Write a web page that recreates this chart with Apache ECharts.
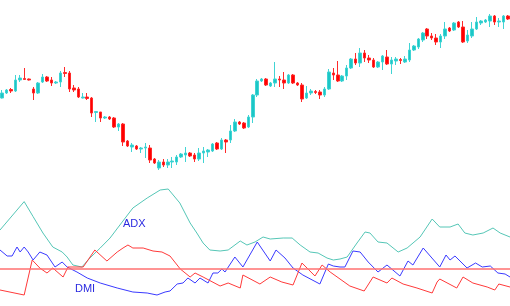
<!DOCTYPE html>
<html>
<head>
<meta charset="utf-8">
<script src="https://cdn.jsdelivr.net/npm/echarts@6/dist/echarts.min.js"></script>
<style>
  html, body { margin: 0; padding: 0; background: #fff; }
  #chart { width: 510px; height: 306px; }
</style>
</head>
<body>
<div id="chart"></div>
<script>
// price bars, one entry per candle
const opens = [102, 107, 110.5, 109, 120, 121.5, 121, 111, 107, 118, 123, 120, 117, 118, 127.5, 127, 112, 111, 102, 103,
  102, 87.5, 88, 82, 83, 82, 73, 76, 59, 53, 54, 51, 52, 52, 41, 32, 38, 35, 38, 38,
  43, 45, 47, 45, 41, 47, 48, 49, 57, 51, 60, 60, 69, 78, 77, 73, 83, 105, 119, 121,
  114, 117, 121, 120, 117, 125, 117, 115, 102, 107, 108.5, 108, 105, 111, 127, 125, 119, 124, 132, 141,
  137, 147, 142, 140, 133, 138, 143, 136, 139, 140.5, 138, 140, 150, 153, 160, 171, 164, 162, 158, 164,
  172, 170, 178, 173, 159, 164, 171, 177, 178, 179, 184, 178, 178, 184]
const closes = [107, 110, 109, 120, 122, 120.5, 120, 107, 117, 123, 119, 117, 118, 127, 126.5, 111, 110, 103, 103, 101.5,
  87, 88.5, 82, 83, 81, 73, 76, 58, 54, 55, 51, 52, 53, 40, 37, 38, 35, 38, 39, 43,
  46, 47, 44, 41, 47, 49, 50, 56, 51, 60, 58, 69, 78, 76, 72, 83, 105, 119, 121, 115,
  117, 121, 120, 117, 125, 117, 115, 101, 107, 109, 107.5, 105, 111, 128, 125, 119, 124, 132, 141, 137,
  147, 142, 140, 133, 138, 144, 136, 140, 141, 139.5, 141, 150, 154, 161, 167, 164, 162, 158, 164, 171,
  169, 177, 173, 158, 165, 171, 178, 179, 180, 184, 178, 179, 184, 181]
const lows = [101.5, 106, 107, 108, 118, 120, 119.5, 100, 106, 117, 118, 114, 116, 113, 123, 108, 108, 102, 101.5, 100,
  83, 78, 78, 81, 80, 72, 69, 54, 53, 48, 50, 47, 42, 37, 36, 30, 33, 32, 32, 35,
  42, 38, 43, 38, 39, 37, 43, 48, 50, 50, 47, 57, 68, 75, 71, 72, 77, 103, 118, 114,
  113, 113, 113, 111, 116, 116, 114, 98, 101, 105, 106, 101, 103, 110, 120, 118, 118, 120, 131, 135,
  133, 138, 137, 132, 132, 130, 135, 126, 135, 136, 137, 138, 149, 151, 158, 161, 160, 155, 152, 161,
  168, 169, 172, 157, 157, 162, 170, 175, 177, 173, 175, 173, 171, 180]
const highs = [110, 111, 112, 125, 125, 132, 121.5, 113, 118, 126, 124, 123, 119, 129, 133, 129, 115, 113, 107, 107,
  103, 89, 88, 84, 84, 83, 77, 77, 60, 57, 55, 53, 57, 55, 42, 40, 41, 41, 43, 45,
  47, 53, 48, 47, 52, 53, 51, 57, 58, 62, 61, 75, 81, 79, 78, 85, 106, 121, 122, 122,
  118, 138, 124, 128, 126, 126, 118, 117, 114, 111, 110, 110, 113, 131, 132, 139, 125, 135, 142, 147,
  152, 150, 145, 142, 139, 145, 150, 143, 143, 142, 144, 157, 155, 162, 168, 172, 167, 166, 166, 178,
  173, 178, 179, 179, 170, 178, 183, 180, 181, 186, 185, 182, 185, 185]

// indicator lines: [bar index, value]
const adx = [[-0.5, 38], [4.9, 52.2], [6.9, 44.7], [9.1, 36.5], [11.3, 29.5], [13.4, 27], [14.5, 24.5], [15.8, 20.5],
  [17.8, 19.5], [19.6, 24], [21.9, 29], [24.1, 34], [26.3, 40.5], [29.2, 49], [32.4, 54], [35.3, 58], [37.1, 58.5],
  [39.7, 51.5], [42, 41.5], [43.5, 36.5], [44.9, 31.5], [46.4, 28], [48.7, 27.5], [50.5, 28], [53.2, 32.5],
  [54.7, 30.5], [56.5, 32], [58.3, 34.5], [59.9, 33.5], [62.8, 34], [64.8, 34], [66.6, 30.5], [68.8, 27],
  [70.6, 26.5], [72.6, 24], [74, 23], [75.5, 23.5], [77.1, 24.5], [79.3, 31.5], [81.1, 37], [82.2, 36.5],
  [84, 32], [86, 31.5], [88.5, 27], [90.5, 29], [93.4, 34.5], [96.1, 43.5], [97.8, 39.5], [100.1, 39.5],
  [101.9, 41], [103.4, 36.5], [105.2, 35.5], [107.5, 36.5], [109.7, 39], [111.3, 36.5], [113.5, 34.5]]
const diPlus = [[-0.5, 28], [1.1, 25], [2.2, 25], [3.3, 29.5], [4, 27], [4.9, 29.5], [5.8, 27], [6.9, 23], [8.4, 27],
  [10, 25.5], [11.8, 19.5], [13.4, 22], [14.5, 19.5], [16.7, 17], [19, 14], [21.9, 11.5], [25.7, 9], [29.2, 7],
  [32.4, 6.5], [34.6, 5.5], [36.4, 7], [37.5, 7.5], [39.1, 11], [40.4, 11.5], [41.5, 14], [43.1, 11.5], [44.2, 14],
  [46, 11.5], [47.1, 16.5], [48.2, 16.5], [49.1, 18.5], [49.8, 17], [52, 24.5], [53.8, 19.5], [57, 32],
  [59.9, 22.5], [61.2, 28], [63.2, 24], [65, 19], [67.2, 15.5], [71, 11], [72.9, 21], [74, 20], [75.5, 19.5],
  [76.6, 19.5], [78.4, 27.5], [80, 27], [81.8, 22], [84, 17], [86, 20.5], [88.9, 15], [90.7, 22.5], [91.8, 20.5],
  [94.1, 29], [97.8, 19.5], [99.2, 25.5], [100.1, 23], [101.2, 25], [103.9, 19], [105.8, 21.5], [107.3, 19.5],
  [109.1, 20], [110.8, 16.5], [112.4, 16], [113.5, 14.5]]
const diMinus = [[-0.5, 8], [4.9, 5.5], [6.7, 23], [8.4, 19], [10, 16.5], [11.3, 19], [13.6, 14.5], [14.7, 19.5],
  [16.7, 19.5], [18.1, 19.5], [20.7, 28], [23.4, 22.5], [25.7, 27], [27, 29], [28.1, 30.5], [29.2, 29], [31.5, 29],
  [33.7, 27.5], [35.7, 27], [37.5, 25], [39.8, 18.5], [42, 14.5], [43.1, 16.5], [44.9, 14.5], [48.7, 10],
  [50.5, 11.5], [53.2, 9], [53.8, 15.5], [57.6, 11], [59.9, 14.5], [62.5, 12], [65, 10.5], [67, 21.5], [69.9, 15],
  [71.5, 20.5], [73.3, 17], [75.5, 13.5], [77.7, 10], [80.9, 7.5], [82.9, 14.5], [86, 11.5], [87.1, 14],
  [89.6, 11], [92.7, 9], [96.1, 6.5], [97.2, 12], [97.8, 13.5], [101.6, 9], [103, 14.5], [105.2, 11.5],
  [108.4, 9.5], [110.1, 8], [111, 11], [113.5, 9.5]]
const level = 18.5

const bars = opens.map((o, i) => String(i + 1))
const candles = opens.map((o, i) => [o, closes[i], lows[i], highs[i]])

const chart = echarts.init(document.getElementById('chart'), null, { renderer: 'canvas' })
chart.setOption({
  animation: false,
  backgroundColor: '#fff',
  grid: [
    { left: 0, right: 0, top: 0, height: 180 },
    { left: 0, right: 0, top: 180, height: 126 },
  ],
  xAxis: [
    { type: 'category', data: bars, gridIndex: 0, show: false },
    { type: 'value', gridIndex: 1, min: -0.5, max: 113.5, show: false },
  ],
  yAxis: [
    { type: 'value', gridIndex: 0, min: 20, max: 200, show: false },
    { type: 'value', gridIndex: 1, min: 0, max: 63, show: false },
  ],
  series: [
    {
      type: 'candlestick',
      xAxisIndex: 0,
      yAxisIndex: 0,
      data: candles,
      barWidth: 3,
      itemStyle: {
        color: '#1cc6c6',
        color0: '#ff0000',
        borderColor: '#40d4d4',
        borderColor0: '#ff2a2a',
        borderWidth: 1,
      },
    },
    {
      name: 'ADX',
      type: 'line',
      xAxisIndex: 1,
      yAxisIndex: 1,
      data: adx,
      symbol: 'none',
      lineStyle: { color: '#55c6b6', width: 1 },
    },
    {
      name: '+DI',
      type: 'line',
      xAxisIndex: 1,
      yAxisIndex: 1,
      data: diPlus,
      symbol: 'none',
      lineStyle: { color: '#3a3aff', width: 1 },
    },
    {
      name: '-DI',
      type: 'line',
      xAxisIndex: 1,
      yAxisIndex: 1,
      data: diMinus,
      symbol: 'none',
      lineStyle: { color: '#ff3a3a', width: 1 },
      markLine: {
        silent: true,
        symbol: 'none',
        label: { show: false },
        lineStyle: { color: '#ff7070', width: 1.5, type: 'solid' },
        data: [{ yAxis: level }],
      },
    },
  ],
  graphic: [
    {
      type: 'text', left: 123, top: 218,
      style: { text: 'ADX', fill: '#2a2ae0', font: '11px "Liberation Sans", Arial, sans-serif' },
    },
    {
      type: 'text', left: 75, top: 283,
      style: { text: 'DMI', fill: '#2a2ae0', font: '11px "Liberation Sans", Arial, sans-serif' },
    },
  ],
})
</script>
</body>
</html>
